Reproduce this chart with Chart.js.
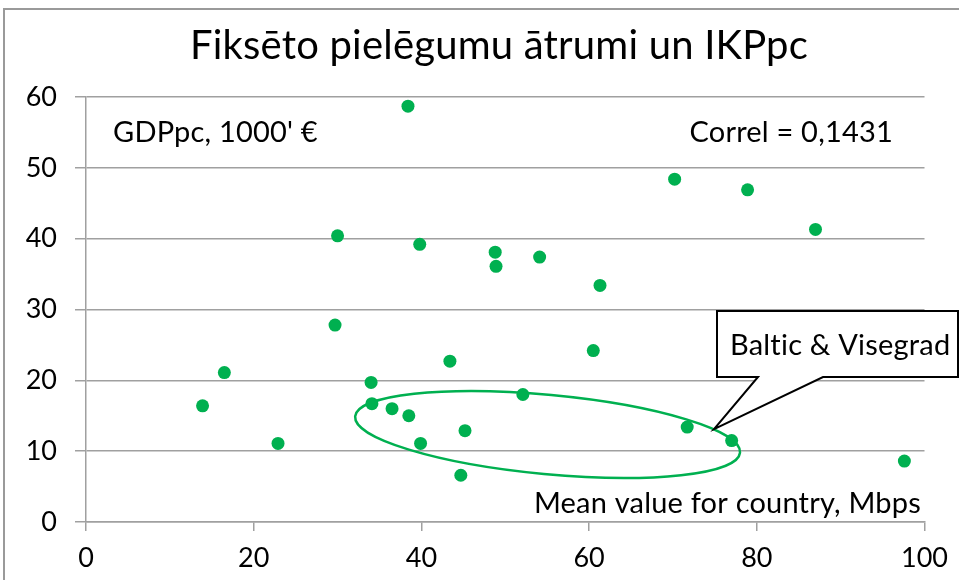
<!DOCTYPE html>
<html>
<head>
<meta charset="utf-8">
<script src="https://cdn.jsdelivr.net/npm/chart.js@4"></script>
<style>
  html, body { margin: 0; padding: 0; background: #fff; }
  #wrap { position: relative; width: 959px; height: 580px; overflow: hidden; }
  #frame { position: absolute; left: 3px; top: 8px; width: 2000px; height: 2000px;
           border-left: 2px solid #9a9a9a; border-top: 2px solid #9a9a9a; }
  canvas { position: absolute; left: 0; top: 0; }
</style>
</head>
<body>
<div id="wrap">
  <div id="frame"></div>
  <canvas id="chart" width="959" height="580"></canvas>
</div>
<script>
// Mbps (x) and GDPpc in 1000 EUR (y)
const speedMbps = [13.9, 16.5, 22.9, 29.7, 30.0, 34.0, 34.1, 36.5, 38.4, 38.5, 39.8, 39.9, 43.4, 44.7,
  45.2, 48.8, 48.9, 52.1, 54.1, 60.5, 61.3, 70.2, 71.7, 77.0, 78.9, 87.0, 97.6];
const gdpPc = [16.4, 21.1, 11.1, 27.8, 40.4, 19.7, 16.7, 16.0, 58.7, 15.0, 39.2, 11.1, 22.7, 6.6,
  12.9, 38.1, 36.1, 18.0, 37.4, 24.2, 33.4, 48.4, 13.4, 11.5, 46.9, 41.3, 8.6];

const xTicks = [0, 20, 40, 60, 80, 100];
const yTicks = [0, 10, 20, 30, 40, 50, 60];

const chartTitle = "Fiksēto pielēgumu ātrumi un IKPpc";
const yNote = "GDPpc, 1000' €";
const correlNote = "Correl = 0,1431";
const xNote = "Mean value for country, Mbps";
const calloutText = "Baltic & Visegrad";

const green = "#00b050";
const gridGray = "#a0a0a0";
const FONT = "Lato, 'Open Sans', sans-serif";

// ellipse round the Baltic & Visegrad group (data units)
const ringLeft = [32.1, 14.9];
const ringRight = [78.0, 9.8];
const ringHalfHeight = 5.6;
// tip of the callout pointer (data units)
const calloutTip = [74.9, 13.1];

const points = speedMbps.map((x, i) => ({ x: x, y: gdpPc[i] }));

const extras = {
  id: "extras",
  afterDatasetsDraw(chart) {
    const ctx = chart.ctx;
    const xs = chart.scales.x;
    const ys = chart.scales.y;

    // ellipse
    const lx = xs.getPixelForValue(ringLeft[0]), ly = ys.getPixelForValue(ringLeft[1]);
    const rx = xs.getPixelForValue(ringRight[0]), ry = ys.getPixelForValue(ringRight[1]);
    const cx = (lx + rx) / 2, cy = (ly + ry) / 2;
    const a = Math.hypot(rx - lx, ry - ly) / 2;
    const b = Math.abs(ys.getPixelForValue(0) - ys.getPixelForValue(ringHalfHeight));
    const rot = Math.atan2(ry - ly, rx - lx);
    ctx.save();
    ctx.strokeStyle = green;
    ctx.lineWidth = 2.5;
    ctx.beginPath();
    ctx.ellipse(cx, cy, a, b, rot, 0, Math.PI * 2);
    ctx.stroke();
    ctx.restore();

    // callout box with pointer
    const tx = xs.getPixelForValue(calloutTip[0]);
    const ty = ys.getPixelForValue(calloutTip[1]);
    const bl = 717, bt = 311, br = 958, bb = 377;
    ctx.save();
    ctx.beginPath();
    ctx.moveTo(bl, bt);
    ctx.lineTo(br, bt);
    ctx.lineTo(br, bb);
    ctx.lineTo(823, bb);
    ctx.lineTo(tx, ty);
    ctx.lineTo(758, bb);
    ctx.lineTo(bl, bb);
    ctx.closePath();
    ctx.fillStyle = "#fff";
    ctx.fill();
    ctx.lineWidth = 2;
    ctx.strokeStyle = "#000";
    ctx.lineJoin = "miter";
    ctx.stroke();

    ctx.fillStyle = "#000";
    ctx.textBaseline = "alphabetic";
    ctx.letterSpacing = "0.2px"; // keeps Lato from joining "ti"
    ctx.font = "29px " + FONT;
    ctx.textAlign = "left";
    ctx.fillText(calloutText, 730, 355);

    // notes inside the plot
    ctx.fillText(yNote, 113, 142);
    ctx.textAlign = "right";
    ctx.fillText(correlNote, 893, 142);
    ctx.fillText(xNote, 921, 513);

    // title
    ctx.textAlign = "center";
    ctx.font = "40px " + FONT;
    ctx.fillText(chartTitle, 499, 59);
    ctx.letterSpacing = "0px";
    ctx.restore();
  }
};

new Chart(document.getElementById("chart"), {
  type: "scatter",
  data: {
    datasets: [{
      data: points,
      backgroundColor: green,
      borderColor: green,
      pointRadius: 6.5,
      pointHoverRadius: 6.5,
      borderWidth: 0
    }]
  },
  options: {
    responsive: false,
    animation: false,
    layout: { padding: { top: 97, right: 31, bottom: 0, left: 0 } },
    plugins: { legend: { display: false }, tooltip: { enabled: false }, title: { display: false } },
    scales: {
      x: {
        type: "linear",
        min: 0,
        max: 100,
        afterBuildTicks: (s) => { s.ticks = xTicks.map(v => ({ value: v })); },
        afterFit: (s) => { s.height = 58; },
        ticks: { color: "#000", font: { family: FONT, size: 27 }, padding: 11 },
        grid: { drawOnChartArea: false, color: gridGray, tickLength: 9, lineWidth: 1.5 },
        border: { color: gridGray, width: 1.5 }
      },
      y: {
        type: "linear",
        min: 0,
        max: 60,
        afterBuildTicks: (s) => { s.ticks = yTicks.map(v => ({ value: v })); },
        afterFit: (s) => { s.width = 86; },
        ticks: { color: "#000", font: { family: FONT, size: 27 }, padding: 18 },
        grid: { color: gridGray, tickLength: 11, lineWidth: 1.5 },
        border: { color: gridGray, width: 1.5 }
      }
    }
  },
  plugins: [extras]
});
</script>
</body>
</html>
